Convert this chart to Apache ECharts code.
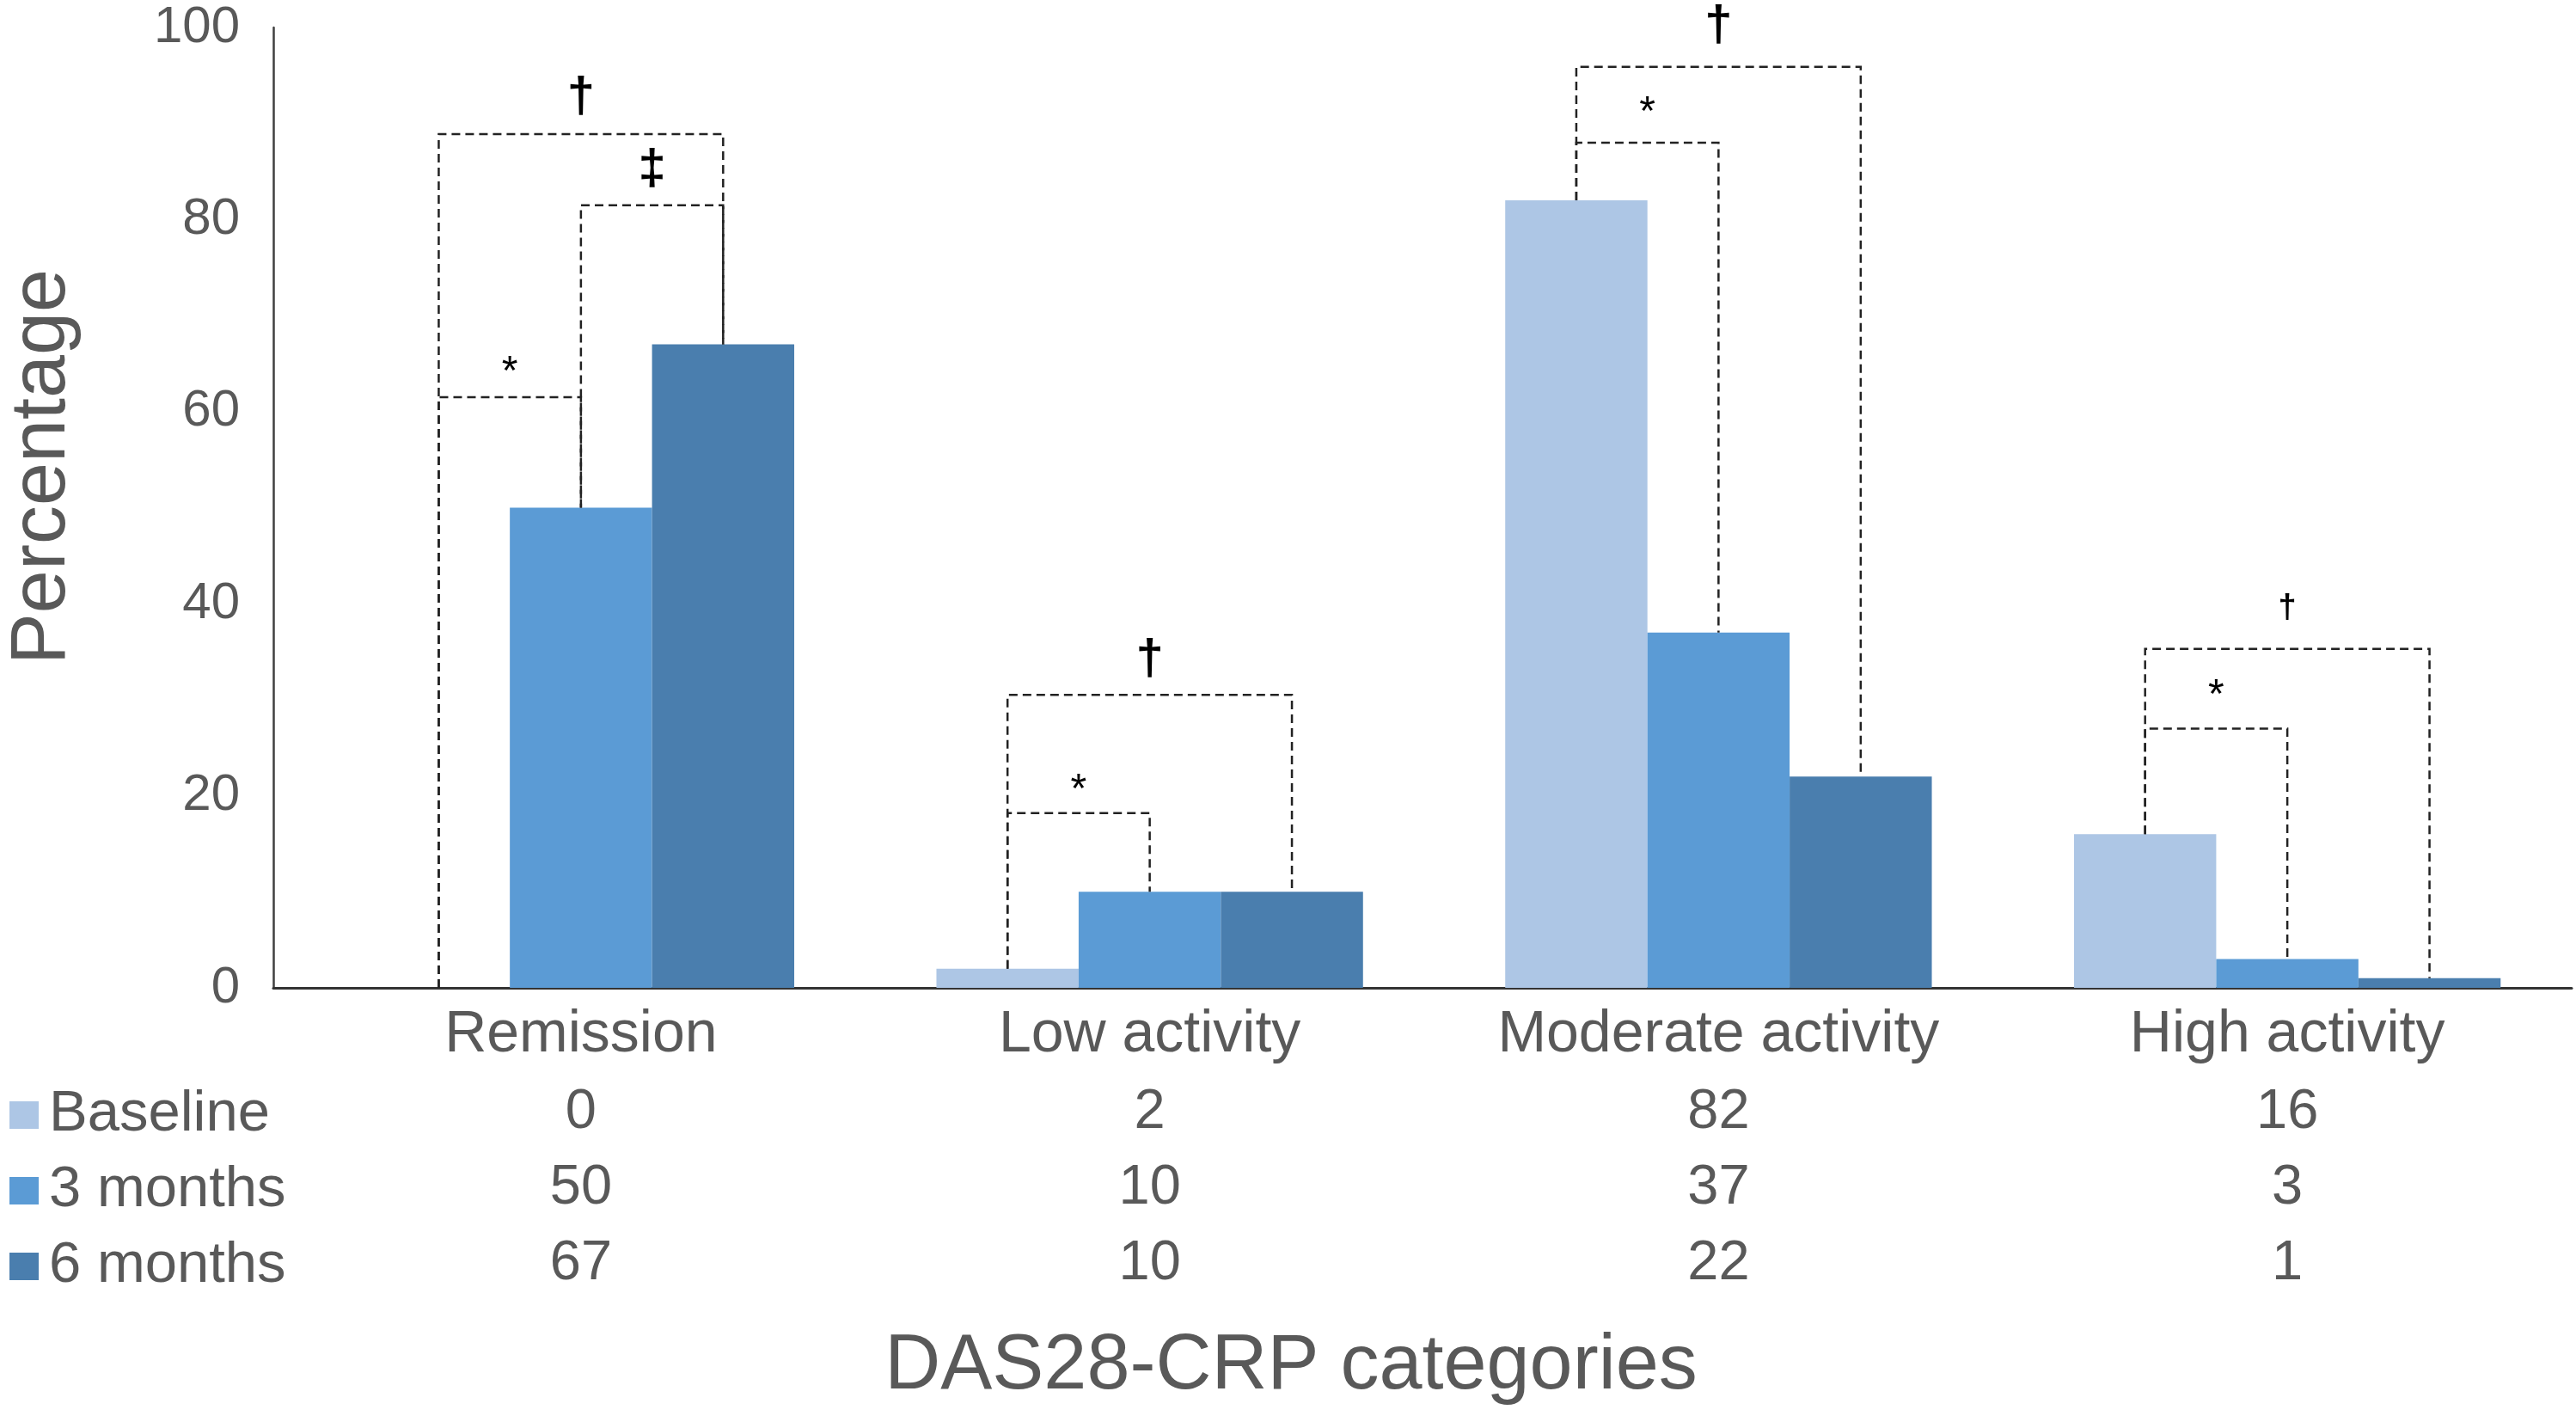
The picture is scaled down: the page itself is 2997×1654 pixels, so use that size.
<!DOCTYPE html>
<html>
<head>
<meta charset="utf-8">
<script src="https://cdn.jsdelivr.net/npm/echarts@6/dist/echarts.min.js"></script>
<style>
  html, body { margin: 0; padding: 0; background: #fff; }
  #main { width: 2997px; height: 1654px; }
</style>
</head>
<body>
<div id="main"></div>
<script>
// chart values
const categories = ['Remission', 'Low activity', 'Moderate activity', 'High activity']
const seriesNames = ['Baseline', '3 months', '6 months']
const baseline = [0, 2, 82, 16]
const months3 = [50, 10, 37, 3]
const months6 = [67, 10, 22, 1]
const yTicks = [0, 20, 40, 60, 80, 100]

// significance brackets: category, from series, to series, top of bracket, mark and where the mark sits
const bracketCat = [0, 0, 0, 1, 1, 2, 2, 3, 3]
const bracketFrom = [0, 1, 0, 0, 0, 0, 0, 0, 0]
const bracketTo = [2, 2, 1, 2, 1, 2, 1, 2, 1]
const bracketTop = [88.9, 81.5, 61.5, 30.5, 18.2, 95.9, 88.0, 35.3, 27.0]
const bracketMark = ['†', '‡', '*', '†', '*', '†', '*', '†', '*']
const markValue = [92.7, 85.1, 65.0, 34.1, 21.5, 100.1, 92.0, 39.5, 31.3]

const seriesValues = [baseline, months3, months6]
const colors = ['#adc6e5', '#5b9bd5', '#4a7eae']
const FONT = "'Liberation Sans', Arial, sans-serif"
const GREY = '#595959'
const GAP = 0.25
// smaller dagger on the last group
const markFont = [58, 58, 48, 58, 48, 58, 48, 38, 48]

const chart = echarts.init(document.getElementById('main'), null, { renderer: 'canvas' })

function renderBracket (params, api) {
  const i = params.dataIndex
  const cat = bracketCat[i]
  const center = api.coord([cat, 0])
  const band = api.size([1, 0])[0]
  const bw = band * (1 - GAP) / 3
  const x1 = center[0] + (bracketFrom[i] - 1) * bw
  const x2 = center[0] + (bracketTo[i] - 1) * bw
  const y1 = api.coord([cat, seriesValues[bracketFrom[i]][cat]])[1]
  const y2 = api.coord([cat, seriesValues[bracketTo[i]][cat]])[1]
  const yTop = api.coord([cat, bracketTop[i]])[1]
  const yMark = api.coord([cat, markValue[i]])[1]
  const isStar = bracketMark[i] === '*'
  return {
    type: 'group',
    children: [
      {
        type: 'polyline',
        shape: { points: [[x1, y1], [x1, yTop], [x2, yTop], [x2, y2]] },
        style: { stroke: '#222', lineWidth: 2.5, lineDash: [10, 6], fill: null }
      },
      {
        type: 'text',
        x: (x1 + x2) / 2,
        y: yMark + (isStar ? markFont[i] * 0.22 : 0),
        style: {
          text: bracketMark[i],
          fontSize: markFont[i],
          fontFamily: FONT,
          fontWeight: isStar ? 'normal' : 'bold',
          fill: '#000',
          align: 'center',
          verticalAlign: 'middle'
        }
      }
    ]
  }
}

chart.setOption({
  backgroundColor: '#fff',
  animation: false,
  color: colors,
  textStyle: { fontFamily: FONT },
  legend: {
    data: seriesNames,
    orient: 'vertical',
    left: 6,
    top: 1258,
    itemWidth: 34,
    itemHeight: 32,
    itemGap: 20,
    icon: 'rect',
    selectedMode: false,
    textStyle: { fontSize: 67, lineHeight: 68, color: GREY, fontFamily: FONT, padding: [0, 0, 0, 7] }
  },
  grid: [
    { left: 345, right: 5, top: 32, bottom: 505 },
    { left: 318, right: 10, top: 32, bottom: 505 }
  ],
  xAxis: [
    {
      type: 'category',
      data: categories,
      gridIndex: 0,
      axisLine: { lineStyle: { color: '#333', width: 3 } },
      axisTick: { show: false },
      axisLabel: {
        interval: 0,
        margin: 9,
        color: GREY,
        formatter: function (value, idx) {
          return '{c|' + value + '}\n{v|' + baseline[idx] + '}\n{v|' + months3[idx] + '}\n{v|' + months6[idx] + '}'
        },
        rich: {
          c: { fontSize: 68, lineHeight: 92, color: GREY, fontFamily: FONT },
          v: { fontSize: 65, lineHeight: 88, color: GREY, fontFamily: FONT }
        }
      }
    },
    {
      type: 'value',
      gridIndex: 1,
      min: 0,
      max: 1,
      axisLine: { lineStyle: { color: '#333', width: 3 } },
      axisTick: { show: false },
      axisLabel: { show: false },
      splitLine: { show: false }
    }
  ],
  yAxis: [
    {
      type: 'value',
      gridIndex: 0,
      min: yTicks[0],
      max: yTicks[yTicks.length - 1],
      interval: yTicks[1] - yTicks[0],
      offset: 27,
      axisLine: { show: true, lineStyle: { color: '#404040', width: 2.5 } },
      axisTick: { show: false },
      splitLine: { show: false },
      axisLabel: { fontSize: 60, color: GREY, margin: 39, fontFamily: FONT }
    },
    {
      type: 'value',
      gridIndex: 1,
      min: 0,
      max: 1,
      show: false
    }
  ],
  series: [
    { name: seriesNames[0], type: 'bar', data: baseline, barGap: '0%', barCategoryGap: GAP * 100 + '%' },
    { name: seriesNames[1], type: 'bar', data: months3, barGap: '0%', barCategoryGap: GAP * 100 + '%' },
    { name: seriesNames[2], type: 'bar', data: months6, barGap: '0%', barCategoryGap: GAP * 100 + '%' },
    {
      name: 'brackets',
      type: 'custom',
      silent: true,
      clip: false,
      z: 10,
      renderItem: renderBracket,
      data: bracketCat.map((c, i) => [c, bracketTop[i]])
    }
  ],
  graphic: [
    {
      type: 'text',
      x: 50,
      y: 543,
      rotation: Math.PI / 2,
      style: { text: 'Percentage', fontSize: 90, fontFamily: FONT, fill: GREY, align: 'center', verticalAlign: 'middle' }
    },
    {
      type: 'text',
      x: 1502,
      y: 1590,
      style: { text: 'DAS28-CRP categories', fontSize: 90, fontFamily: FONT, fill: GREY, align: 'center', verticalAlign: 'middle' }
    }
  ]
})
</script>
</body>
</html>
